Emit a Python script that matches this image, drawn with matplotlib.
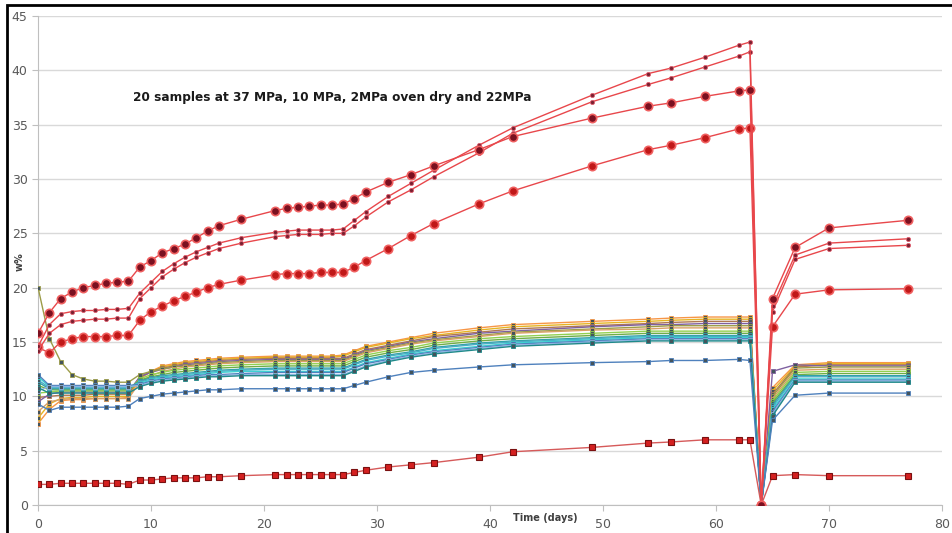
import matplotlib
matplotlib.use('Agg')
import matplotlib.pyplot as plt
from matplotlib.patches import Rectangle

# time points (days)
days = [0, 1, 2, 3, 4, 5, 6, 7, 8,
        9, 10, 11, 12, 13, 14, 15, 16,
        18, 21, 22, 23, 24, 25, 26, 27,
        28, 29, 31, 33, 35, 39, 42,
        49, 54, 56, 59, 62, 63,
        64, 65, 67, 70, 77]

# upper group (red lines)
s37a = [15.8, 17.7, 19.0, 19.6, 20.0, 20.2, 20.4, 20.5, 20.6,
        21.9, 22.5, 23.2, 23.6, 24.0, 24.6, 25.2, 25.7,
        26.3, 27.1, 27.3, 27.4, 27.5, 27.6, 27.6, 27.7,
        28.2, 28.8, 29.7, 30.4, 31.2, 32.7, 33.9,
        35.6, 36.7, 37.0, 37.6, 38.1, 38.2,
        0.0, 19.0, 23.7, 25.5, 26.2]
s37b = [14.6, 16.6, 17.6, 17.8, 17.9, 17.9, 18.0, 18.0, 18.1,
        19.5, 20.5, 21.5, 22.2, 22.8, 23.3, 23.7, 24.1,
        24.6, 25.1, 25.2, 25.3, 25.3, 25.3, 25.3, 25.4,
        26.2, 27.0, 28.4, 29.6, 30.8, 33.1, 34.7,
        37.7, 39.7, 40.2, 41.2, 42.3, 42.6,
        0.0, 18.3, 23.0, 24.1, 24.5]
s37c = [14.2, 15.8, 16.6, 16.9, 17.0, 17.1, 17.1, 17.2, 17.2,
        19.0, 20.0, 21.0, 21.7, 22.3, 22.8, 23.2, 23.6,
        24.1, 24.7, 24.8, 24.9, 24.9, 24.9, 25.0, 25.0,
        25.7, 26.5, 27.9, 29.0, 30.2, 32.4, 34.2,
        37.1, 38.7, 39.3, 40.3, 41.3, 41.7,
        0.0, 17.8, 22.6, 23.6, 23.9]
s37d = [14.5, 14.0, 15.0, 15.3, 15.5, 15.5, 15.5, 15.6, 15.6,
        17.0, 17.8, 18.3, 18.8, 19.2, 19.6, 20.0, 20.3,
        20.7, 21.2, 21.3, 21.3, 21.3, 21.4, 21.4, 21.4,
        21.9, 22.5, 23.6, 24.8, 25.9, 27.7, 28.9,
        31.2, 32.7, 33.1, 33.8, 34.6, 34.7,
        0.0, 16.4, 19.4, 19.8, 19.9]

# oven dry sample
s_dry = [1.9, 1.9, 2.0, 2.0, 2.0, 2.0, 2.0, 2.0, 1.9,
         2.3, 2.3, 2.4, 2.5, 2.5, 2.5, 2.6, 2.6,
         2.7, 2.8, 2.8, 2.8, 2.8, 2.8, 2.8, 2.8,
         3.0, 3.2, 3.5, 3.7, 3.9, 4.4, 4.9,
         5.3, 5.7, 5.8, 6.0, 6.0, 6.0,
         0.0, 2.7, 2.8, 2.7, 2.7]

# middle cluster
m01 = [7.5, 8.8, 9.6, 9.7, 9.7, 9.8, 9.8, 9.8, 9.9,
       11.6, 12.3, 12.8, 13.0, 13.2, 13.3, 13.4, 13.5,
       13.6, 13.7, 13.7, 13.7, 13.7, 13.7, 13.7, 13.8,
       14.2, 14.6, 15.0, 15.4, 15.8, 16.3, 16.6,
       16.9, 17.1, 17.2, 17.3, 17.3, 17.3,
       0.0, 10.8, 12.9, 13.1, 13.1]
m02 = [8.0, 9.3, 9.8, 9.9, 9.9, 10.0, 10.0, 10.0, 10.0,
       11.7, 12.3, 12.7, 12.9, 13.1, 13.2, 13.3, 13.4,
       13.5, 13.6, 13.6, 13.6, 13.6, 13.6, 13.6, 13.7,
       14.1, 14.5, 14.9, 15.3, 15.6, 16.1, 16.4,
       16.7, 16.9, 17.0, 17.1, 17.1, 17.1,
       0.0, 10.5, 12.8, 13.0, 13.0]
m03 = [9.9, 10.0, 10.1, 10.1, 10.1, 10.2, 10.2, 10.2, 10.2,
       11.8, 12.3, 12.6, 12.8, 13.0, 13.1, 13.2, 13.3,
       13.4, 13.5, 13.5, 13.5, 13.5, 13.5, 13.5, 13.5,
       13.9, 14.3, 14.7, 15.1, 15.5, 15.9, 16.2,
       16.5, 16.7, 16.8, 16.9, 16.9, 16.9,
       0.0, 10.2, 12.7, 12.9, 12.9]
m04 = [9.5, 10.2, 10.4, 10.4, 10.4, 10.4, 10.4, 10.4, 10.4,
       11.8, 12.2, 12.5, 12.7, 12.9, 13.0, 13.1, 13.2,
       13.3, 13.4, 13.4, 13.4, 13.4, 13.4, 13.4, 13.4,
       13.8, 14.2, 14.6, 15.0, 15.3, 15.8, 16.0,
       16.4, 16.6, 16.6, 16.7, 16.7, 16.7,
       0.0, 12.3, 12.9, 12.8, 12.8]
m05 = [20.0, 15.3, 13.2, 12.0, 11.6, 11.4, 11.4, 11.3, 11.3,
       12.0, 12.3, 12.5, 12.7, 12.8, 12.9, 13.0, 13.1,
       13.2, 13.3, 13.3, 13.3, 13.3, 13.3, 13.3, 13.3,
       13.7, 14.1, 14.5, 14.9, 15.2, 15.6, 15.9,
       16.2, 16.4, 16.5, 16.5, 16.5, 16.5,
       0.0, 10.0, 12.6, 12.7, 12.7]
m06 = [8.6, 9.5, 9.7, 9.8, 9.8, 9.8, 9.8, 9.8, 9.8,
       11.3, 11.9, 12.3, 12.5, 12.7, 12.8, 12.9, 13.0,
       13.1, 13.2, 13.2, 13.2, 13.2, 13.2, 13.2, 13.2,
       13.6, 14.0, 14.4, 14.8, 15.1, 15.5, 15.8,
       16.1, 16.2, 16.3, 16.3, 16.3, 16.3,
       0.0, 9.8, 12.4, 12.5, 12.5]
m07 = [10.3, 10.4, 10.5, 10.5, 10.5, 10.5, 10.5, 10.5, 10.5,
       11.6, 12.0, 12.2, 12.4, 12.5, 12.6, 12.7, 12.8,
       12.9, 13.0, 13.0, 13.0, 13.0, 13.0, 13.0, 13.0,
       13.4, 13.8, 14.2, 14.5, 14.9, 15.3, 15.5,
       15.8, 16.0, 16.0, 16.0, 16.0, 16.0,
       0.0, 9.6, 12.2, 12.3, 12.3]
m08 = [11.0, 10.6, 10.6, 10.6, 10.6, 10.6, 10.6, 10.6, 10.6,
       11.5, 11.8, 12.0, 12.2, 12.3, 12.4, 12.5, 12.6,
       12.7, 12.8, 12.8, 12.8, 12.8, 12.8, 12.8, 12.8,
       13.2, 13.6, 14.0, 14.3, 14.7, 15.1, 15.3,
       15.6, 15.8, 15.8, 15.8, 15.8, 15.8,
       0.0, 9.4, 12.0, 12.1, 12.1]
m09 = [11.3, 10.7, 10.7, 10.7, 10.7, 10.7, 10.7, 10.7, 10.7,
       11.4, 11.7, 11.9, 12.0, 12.1, 12.2, 12.3, 12.4,
       12.5, 12.6, 12.6, 12.6, 12.6, 12.6, 12.6, 12.6,
       13.0, 13.4, 13.8, 14.1, 14.5, 14.9, 15.1,
       15.4, 15.6, 15.6, 15.6, 15.6, 15.6,
       0.0, 9.2, 11.9, 11.9, 11.9]
m10 = [11.5, 10.8, 10.8, 10.8, 10.8, 10.8, 10.8, 10.8, 10.8,
       11.3, 11.6, 11.8, 11.9, 12.0, 12.1, 12.2, 12.3,
       12.4, 12.5, 12.5, 12.5, 12.5, 12.5, 12.5, 12.5,
       12.9, 13.3, 13.7, 14.0, 14.4, 14.8, 15.0,
       15.3, 15.5, 15.5, 15.5, 15.5, 15.5,
       0.0, 9.0, 11.8, 11.8, 11.8]
m11 = [11.8, 10.9, 10.9, 10.9, 10.9, 10.9, 10.9, 10.9, 10.9,
       11.2, 11.5, 11.7, 11.8, 11.9, 12.0, 12.1, 12.2,
       12.3, 12.3, 12.3, 12.3, 12.3, 12.3, 12.3, 12.3,
       12.7, 13.1, 13.5, 13.9, 14.2, 14.6, 14.9,
       15.2, 15.4, 15.4, 15.4, 15.4, 15.4,
       0.0, 8.8, 11.6, 11.6, 11.6]
m12 = [12.0, 11.0, 11.0, 11.0, 11.0, 11.0, 11.0, 11.0, 11.0,
       11.1, 11.4, 11.6, 11.7, 11.8, 11.9, 12.0, 12.0,
       12.1, 12.2, 12.2, 12.2, 12.2, 12.2, 12.2, 12.2,
       12.6, 13.0, 13.4, 13.8, 14.1, 14.5, 14.8,
       15.1, 15.3, 15.3, 15.3, 15.3, 15.3,
       0.0, 8.6, 11.5, 11.5, 11.5]
m13 = [10.5, 10.9, 10.9, 10.9, 10.9, 10.9, 10.9, 10.9, 10.9,
       11.0, 11.3, 11.5, 11.6, 11.7, 11.8, 11.9, 11.9,
       12.0, 12.0, 12.0, 12.0, 12.0, 12.0, 12.0, 12.0,
       12.4, 12.8, 13.3, 13.7, 14.0, 14.4, 14.7,
       15.0, 15.2, 15.2, 15.2, 15.2, 15.2,
       0.0, 8.4, 11.4, 11.4, 11.4]
m14 = [10.8, 10.3, 10.3, 10.3, 10.3, 10.3, 10.3, 10.3, 10.3,
       10.9, 11.2, 11.4, 11.5, 11.6, 11.7, 11.8, 11.8,
       11.9, 11.9, 11.9, 11.9, 11.9, 11.9, 11.9, 11.9,
       12.3, 12.7, 13.2, 13.6, 13.9, 14.3, 14.6,
       14.9, 15.1, 15.1, 15.1, 15.1, 15.1,
       0.0, 8.2, 11.3, 11.3, 11.3]
m15 = [9.3, 8.7, 9.0, 9.0, 9.0, 9.0, 9.0, 9.0, 9.1,
       9.8, 10.0, 10.2, 10.3, 10.4, 10.5, 10.6, 10.6,
       10.7, 10.7, 10.7, 10.7, 10.7, 10.7, 10.7, 10.7,
       11.0, 11.3, 11.8, 12.2, 12.4, 12.7, 12.9,
       13.1, 13.2, 13.3, 13.3, 13.4, 13.3,
       0.0, 7.8, 10.1, 10.3, 10.3]

middle = [m01, m02, m03, m04, m05, m06, m07, m08, m09, m10, m11, m12, m13, m14, m15]
middle_colors = ['#F79646', '#E6B422', '#B07850', '#7F60A0', '#9C9C48', '#D9A066',
                 '#92D050', '#70AD47', '#31A2A5', '#4BACC6', '#3CD2D2', '#4F81BD',
                 '#8DB4E2', '#1F8A8A', '#4F81BD']

fig = plt.figure(figsize=(9.52, 5.33), dpi=100)
ax = fig.add_axes([0.04, 0.0525, 0.9495, 0.9175])

# middle cluster
for vals, col in zip(middle, middle_colors):
    ms = 2.5 if vals is m15 else 3.5
    ax.plot(days, vals, color=col, lw=1.0, marker='s', ms=ms,
            mfc='#44545c', mec=col, mew=0.6, zorder=3)

# oven dry
ax.plot(days, s_dry, color='#D65A5A', lw=1.0, marker='s', ms=5,
        mfc='#D42020', mec='#7a1010', mew=0.8, zorder=4)

# upper red group
ax.plot(days, s37d, color='#E8474B', lw=1.0, marker='o', ms=6,
        mfc='#C01818', mec='#F06060', mew=1.2, zorder=5)
ax.plot(days, s37c, color='#E8474B', lw=1.0, marker='o', ms=3,
        mfc='#7a2030', mec='#E06070', mew=0.6, zorder=5)
ax.plot(days, s37b, color='#E8474B', lw=1.0, marker='o', ms=3,
        mfc='#7a2030', mec='#E06070', mew=0.6, zorder=5)
ax.plot(days, s37a, color='#E8474B', lw=1.0, marker='o', ms=6,
        mfc='#7a1020', mec='#F06060', mew=1.2, zorder=6)

ax.set_xlim(0, 80)
ax.set_ylim(0, 45)
ax.set_xticks(range(0, 81, 10))
ax.set_yticks(range(0, 46, 5))
ax.grid(axis='y', color='#D9D9D9', lw=1.0)
ax.set_axisbelow(True)
for side in ['top', 'right']:
    ax.spines[side].set_visible(False)
for side in ['left', 'bottom']:
    ax.spines[side].set_color('#BFBFBF')
ax.tick_params(colors='#BFBFBF', labelcolor='#595959', labelsize=9, length=4)
ax.tick_params(axis='x', pad=5)

ax.text(8.4, 37.5, '20 samples at 37 MPa, 10 MPa, 2MPa oven dry and 22MPa',
        fontsize=8.7, fontweight='semibold', color='#1a1a1a', va='center', ha='left')
fig.text(545 / 952, 1 - 518 / 533, 'Time (days)', fontsize=7, fontweight='bold',
         color='#404040', ha='center', va='center')
fig.text(20 / 952, 1 - 262 / 533, 'w%', fontsize=7, fontweight='bold',
         color='#404040', ha='center', va='center', rotation=90)

# chart frame
fig.patches.append(Rectangle((7 / 952, -0.02), 1.0, 1 - 5 / 533 + 0.02,
                             transform=fig.transFigure, fill=False,
                             edgecolor='black', lw=2, clip_on=False))

fig.savefig('out.png', dpi=100)
